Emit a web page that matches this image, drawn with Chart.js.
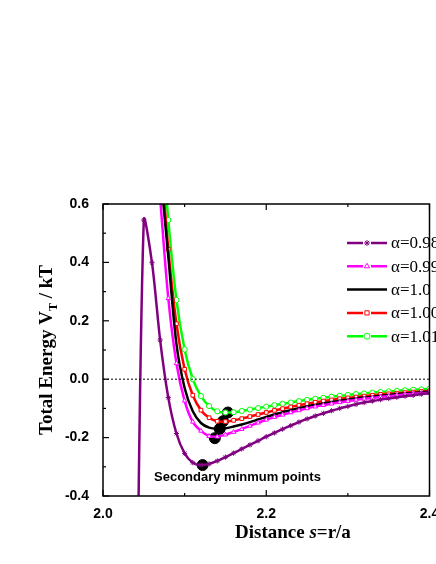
<!DOCTYPE html>
<html>
<head>
<meta charset="utf-8">
<script src="https://cdn.jsdelivr.net/npm/chart.js@4.4.0/dist/chart.umd.min.js"></script>
<style>
  html, body { margin: 0; padding: 0; background: #fff; }
  #wrap { width: 436px; height: 564px; }
</style>
</head>
<body>
<div id="wrap"><canvas id="energyChart"></canvas></div>
<script>
// distance values s = r/a
const xsPurple = [2.04, 2.05, 2.06, 2.07, 2.08, 2.09, 2.10, 2.11, 2.12, 2.13, 2.14, 2.15, 2.16, 2.17, 2.18, 2.19, 2.20, 2.21, 2.22, 2.23, 2.24, 2.25, 2.26, 2.27, 2.28, 2.29, 2.30, 2.31, 2.32, 2.33, 2.34, 2.35, 2.36, 2.37, 2.38, 2.39, 2.40];
const xsOther = [2.07, 2.08, 2.09, 2.10, 2.11, 2.12, 2.13, 2.14, 2.15, 2.16, 2.17, 2.18, 2.19, 2.20, 2.21, 2.22, 2.23, 2.24, 2.25, 2.26, 2.27, 2.28, 2.29, 2.30, 2.31, 2.32, 2.33, 2.34, 2.35, 2.36, 2.37, 2.38, 2.39, 2.40];

const alpha098 = [-1.2, 0.545, 0.399, 0.134, -0.063, -0.186, -0.254, -0.286, -0.294, -0.290, -0.280, -0.267, -0.253, -0.239, -0.225, -0.211, -0.197, -0.184, -0.171, -0.159, -0.147, -0.136, -0.126, -0.117, -0.108, -0.100, -0.093, -0.086, -0.080, -0.075, -0.070, -0.066, -0.062, -0.058, -0.055, -0.051, -0.048];
const alpha099 = [0.62, 0.277, 0.054, -0.074, -0.146, -0.177, -0.195, -0.197, -0.190, -0.181, -0.171, -0.160, -0.149, -0.139, -0.130, -0.122, -0.114, -0.107, -0.100, -0.094, -0.089, -0.084, -0.079, -0.075, -0.071, -0.067, -0.064, -0.061, -0.058, -0.055, -0.052, -0.050, -0.048, -0.046];
const alpha100 = [0.72, 0.42, 0.12, -0.03, -0.11, -0.15, -0.166, -0.170, -0.168, -0.162, -0.155, -0.147, -0.138, -0.129, -0.121, -0.113, -0.106, -0.099, -0.093, -0.088, -0.083, -0.078, -0.074, -0.070, -0.066, -0.063, -0.060, -0.057, -0.054, -0.051, -0.049, -0.047, -0.045, -0.043];
const alpha1005 = [0.79, 0.445, 0.19, 0.034, -0.055, -0.106, -0.132, -0.144, -0.145, -0.141, -0.135, -0.128, -0.121, -0.114, -0.107, -0.101, -0.095, -0.089, -0.084, -0.079, -0.075, -0.071, -0.067, -0.064, -0.061, -0.058, -0.055, -0.052, -0.050, -0.048, -0.046, -0.044, -0.042, -0.040];
const alpha101 = [0.9, 0.545, 0.271, 0.102, 0.0, -0.058, -0.092, -0.110, -0.114, -0.113, -0.109, -0.104, -0.099, -0.094, -0.089, -0.084, -0.080, -0.075, -0.071, -0.067, -0.064, -0.060, -0.057, -0.054, -0.051, -0.049, -0.046, -0.044, -0.042, -0.040, -0.038, -0.036, -0.035, -0.033];

// secondary minimum points
const minX = [2.122, 2.137, 2.143, 2.147, 2.153];
const minY = [-0.294, -0.202, -0.170, -0.144, -0.114];

const xTicks = [2.0, 2.2, 2.4];
const yTicks = [0.6, 0.4, 0.2, 0.0, -0.2, -0.4];

const legendLabels = ['α=0.98', 'α=0.99', 'α=1.0', 'α=1.005', 'α=1.01'];

function pts(xs, ys) {
    return xs.map((x, i) => ({ x: x, y: ys[i] }));
}

function series(label, xs, ys, color, marker) {
    return {
        label: label,
        data: pts(xs, ys),
        borderColor: color,
        backgroundColor: '#fff',
        borderWidth: 2.5,
        pointStyle: marker,
        pointRadius: marker ? 2.6 : 0,
        pointBorderWidth: 1,
        pointBorderColor: color,
        tension: 0.3
    };
}

const datasets = [
    { label: 'zero', data: [{ x: 2.0, y: 0 }, { x: 2.4, y: 0 }], borderColor: '#000', borderWidth: 1, borderDash: [2, 2], pointRadius: 0 },
    series(legendLabels[0], xsPurple, alpha098, '#800080', 'star'),
    series(legendLabels[1], xsOther, alpha099, '#ff00ff', 'triangle'),
    series(legendLabels[2], xsOther, alpha100, '#000000', false),
    series(legendLabels[3], xsOther, alpha1005, '#ff0000', 'rect'),
    series(legendLabels[4], xsOther, alpha101, '#00ff00', 'circle'),
    { label: 'minima', data: pts(minX, minY), showLine: false, pointRadius: 5.5, backgroundColor: '#000', borderColor: '#000' }
];

// frame, inward ticks, titles, legend and note
const decor = {
    id: 'decor',
    afterDraw(chart) {
        const c = chart.ctx, a = chart.chartArea;
        const sx = chart.scales.x, sy = chart.scales.y;
        c.save();
        c.strokeStyle = '#000';
        c.lineWidth = 1.5;
        c.strokeRect(a.left, a.top, a.right - a.left, a.bottom - a.top);
        c.lineWidth = 1.2;
        for (let v = 2.0; v <= 2.401; v += 0.1) {
            const px = sx.getPixelForValue(v);
            const len = Math.round(v * 10) % 2 === 0 ? 6 : 3;
            c.beginPath(); c.moveTo(px, a.bottom); c.lineTo(px, a.bottom - len); c.stroke();
            c.beginPath(); c.moveTo(px, a.top); c.lineTo(px, a.top + len); c.stroke();
        }
        for (let v = -0.4; v <= 0.601; v += 0.1) {
            const py = sy.getPixelForValue(v);
            const len = Math.round(v * 10 + 10) % 2 === 0 ? 6 : 3;
            c.beginPath(); c.moveTo(a.left, py); c.lineTo(a.left + len, py); c.stroke();
        }

        // legend
        const rows = [
            ['#800080', 'star'], ['#ff00ff', 'triangle'], ['#000000', null], ['#ff0000', 'rect'], ['#00ff00', 'circle']
        ];
        rows.forEach((r, i) => {
            const y = 243 + i * 23.3;
            c.strokeStyle = r[0];
            c.lineWidth = 2.5;
            c.beginPath(); c.moveTo(347, y); c.lineTo(387, y); c.stroke();
            if (r[1]) {
                c.fillStyle = '#fff';
                c.fillRect(363, y - 3, 8, 6);
                c.lineWidth = 1;
                c.strokeStyle = r[0];
                Chart.helpers.drawPoint(c, { pointStyle: r[1], radius: 3, borderWidth: 1 }, 367, y);
            }
            c.fillStyle = '#000';
            c.font = '17px "Liberation Serif"';
            c.textBaseline = 'middle';
            c.textAlign = 'left';
            c.fillText(legendLabels[i], 391, y + 1);
        });

        // note
        c.fillStyle = '#000';
        c.font = 'bold 13px "Liberation Sans"';
        c.textAlign = 'left';
        c.textBaseline = 'middle';
        c.fillText('Secondary minmum points', 154, 477);

        // x title
        c.font = 'bold 19px "Liberation Serif"';
        c.textAlign = 'left';
        c.textBaseline = 'alphabetic';
        let x0 = 235, yb = 538;
        c.fillText('Distance ', x0, yb);
        x0 += c.measureText('Distance ').width;
        c.font = 'bold italic 19px "Liberation Serif"';
        c.fillText('s', x0, yb);
        x0 += c.measureText('s').width;
        c.font = 'bold 19px "Liberation Serif"';
        c.fillText('=r/a', x0, yb);

        // y title
        c.translate(52, 350);
        c.rotate(-Math.PI / 2);
        const p1 = 'Total Energy V', p2 = ' / kT';
        c.font = 'bold 19px "Liberation Serif"';
        const w1 = c.measureText(p1).width;
        const w2 = c.measureText(p2).width;
        c.font = 'bold 12px "Liberation Serif"';
        const ws = c.measureText('T').width;
        let tx = -(w1 + ws + w2) / 2;
        c.font = 'bold 19px "Liberation Serif"';
        c.fillText(p1, tx, 0);
        tx += w1;
        c.font = 'bold 12px "Liberation Serif"';
        c.fillText('T', tx, 5);
        tx += ws;
        c.font = 'bold 19px "Liberation Serif"';
        c.fillText(p2, tx, 0);
        c.restore();
    }
};

new Chart(document.getElementById('energyChart'), {
    type: 'line',
    data: { datasets: datasets },
    options: {
        responsive: true,
        maintainAspectRatio: false,
        animation: false,
        layout: { padding: { top: 204, right: 1, left: 0, bottom: 0 } },
        plugins: { legend: { display: false }, tooltip: { enabled: false } },
        scales: {
            x: {
                type: 'linear',
                min: 2.0, max: 2.4,
                grid: { display: false },
                border: { display: false },
                afterFit: s => { s.height = 68; s.paddingLeft = 0; s.paddingRight = 0; },
                afterBuildTicks: s => { s.ticks = xTicks.map(v => ({ value: v })); },
                ticks: {
                    color: '#000',
                    font: { family: 'Liberation Sans', weight: 'bold', size: 14 },
                    padding: 2,
                    maxRotation: 0,
                    callback: v => v.toFixed(1)
                }
            },
            y: {
                min: -0.4, max: 0.6,
                grid: { display: false },
                border: { display: false },
                afterFit: s => { s.width = 103; s.paddingTop = 0; s.paddingBottom = 0; },
                afterBuildTicks: s => { s.ticks = yTicks.map(v => ({ value: v })); },
                ticks: {
                    color: '#000',
                    font: { family: 'Liberation Sans', weight: 'bold', size: 14 },
                    padding: 6,
                    callback: v => v.toFixed(1)
                }
            }
        }
    },
    plugins: [decor]
});
</script>
</body>
</html>
